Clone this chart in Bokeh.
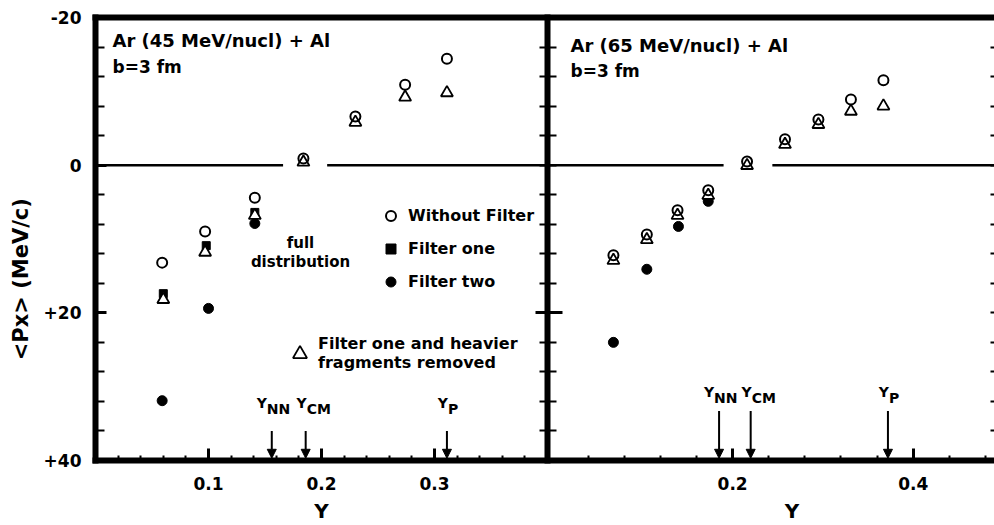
from bokeh.plotting import figure
from bokeh.layouts import row
from bokeh.models import (Range1d, FixedTicker, LinearAxis, Label, Legend, LegendItem,
                          Arrow, NormalHead, ColumnDataSource)
from bokeh.embed import file_html
from bokeh.resources import INLINE
from bokeh.core.properties import value

FONT = "DejaVu Sans"
NB = "\u00a0"

# ---------------- data: left panel, Ar (45 MeV/nucl) + Al ----------------
l_open_x = [0.059, 0.097, 0.141, 0.184, 0.230, 0.274, 0.311]
l_open_y = [13.2, 9.0, 4.4, -0.9, -6.6, -10.9, -14.4]
l_sq_x = [0.060, 0.098, 0.141]
l_sq_y = [17.4, 10.9, 6.4]
l_fill_x = [0.059, 0.100, 0.141]
l_fill_y = [31.9, 19.4, 7.9]
l_tri_x = [0.060, 0.097, 0.141, 0.184, 0.230, 0.274, 0.311]
l_tri_y = [18.2, 11.8, 6.8, -0.4, -5.8, -9.2, -9.8]
l_mark_names = ["NN", "CM", "P"]
l_mark_x = [0.156, 0.186, 0.311]
l_zero_x0 = [0.0, 0.205]
l_zero_x1 = [0.166, 0.4]

# ---------------- data: right panel, Ar (65 MeV/nucl) + Al ----------------
r_open_x = [0.068, 0.105, 0.139, 0.173, 0.216, 0.258, 0.295, 0.331, 0.367]
r_open_y = [12.2, 9.4, 6.1, 3.4, -0.5, -3.5, -6.2, -8.9, -11.5]
r_tri_x = [0.068, 0.105, 0.139, 0.173, 0.216, 0.258, 0.295, 0.331, 0.367]
r_tri_y = [12.9, 10.1, 6.8, 4.1, 0.05, -2.8, -5.5, -7.3, -8.0]
r_fill_x = [0.068, 0.105, 0.140, 0.173]
r_fill_y = [24.0, 14.1, 8.3, 4.9]
r_mark_names = ["NN", "CM", "P"]
r_mark_x = [0.185, 0.220, 0.372]
r_zero_x0 = [-0.005, 0.244]
r_zero_x1 = [0.19, 0.49]

# ---------------- ticks ----------------
y_major = [-20, 0, 20, 40]
y_minor = [-16, -12, -8, -4, 4, 8, 12, 16, 24, 28, 32, 36]
y_labels = {-20.0: "-20", 0.0: "0", 20.0: "+20", 40.0: "+40"}
y_long = [20]
l_x_major = [0.1, 0.2, 0.3]
l_x_minor = [0.02, 0.04, 0.06, 0.08, 0.12, 0.14, 0.16, 0.18, 0.22, 0.24, 0.26, 0.28,
             0.32, 0.34, 0.36, 0.38]
r_x_major = [0.2, 0.4]
r_x_minor = [0.04, 0.08, 0.12, 0.16, 0.24, 0.28, 0.32, 0.36, 0.44, 0.48]

W_L, W_R, H = 547, 447, 525
TOP, BOTTOM = 17, 65


def make_fig(width, xr, border_left):
    p = figure(width=width, height=H, x_range=xr, y_range=Range1d(40, -20),
               output_backend="svg", toolbar_location=None,
               x_axis_location=None, y_axis_location=None,
               min_border_left=border_left, min_border_right=0,
               min_border_top=TOP, min_border_bottom=BOTTOM)
    p.outline_line_color = None
    p.background_fill_color = "white"
    p.border_fill_color = "white"
    p.grid.visible = False
    return p


def tick_axis(positions, tick_in, line=True, width=2):
    # axis drawing only (unlabelled) ticks, as minor ticks
    ax = LinearAxis(ticker=FixedTicker(ticks=[], minor_ticks=positions),
                    major_tick_in=0, major_tick_out=0,
                    minor_tick_in=tick_in, minor_tick_out=0,
                    minor_tick_line_width=width, minor_tick_line_color="black",
                    major_label_standoff=0,
                    axis_line_width=6, axis_line_cap="square", axis_line_color="black")
    if not line:
        ax.axis_line_color = None
    return ax


def label_axis(ticker, tick_in, minor_in, standoff, overrides=None, title=None,
               title_size="20px", title_standoff=6):
    ax = LinearAxis(ticker=ticker, major_tick_in=tick_in, major_tick_out=0,
                    minor_tick_in=minor_in, minor_tick_out=0,
                    major_tick_line_width=3, minor_tick_line_width=2,
                    major_tick_line_color="black", minor_tick_line_color="black",
                    major_label_text_font=FONT, major_label_text_font_style="bold",
                    major_label_text_font_size="17px", major_label_text_color="black",
                    major_label_standoff=standoff,
                    axis_line_width=6, axis_line_cap="square", axis_line_color="black")
    if overrides:
        ax.major_label_overrides = overrides
    if title:
        ax.axis_label = title
        ax.axis_label_text_font = FONT
        ax.axis_label_text_font_style = "bold"
        ax.axis_label_text_font_size = title_size
        ax.axis_label_text_color = "black"
        ax.axis_label_standoff = title_standoff
    return ax


def draw_points(p, ox, oy, tx, ty, fx, fy, sx=None, sy=None):
    rf = p.scatter(fx, fy, marker="circle", size=10, fill_color="black", line_color="black")
    rs = None
    if sx is not None:
        rs = p.scatter(sx, sy, marker="square", size=8, fill_color="black", line_color="black")
    rt = p.scatter(tx, ty, marker="triangle", size=12, fill_color="white",
                   line_color="black", line_width=1.8)
    ro = p.scatter(ox, oy, marker="circle", size=10, fill_color=None,
                   line_color="black", line_width=2)
    return ro, rs, rf, rt


def draw_marks(p, names, xs, y_start, gap):
    shift = [-5 if n == "NN" else 1 for n in names]
    src = ColumnDataSource(dict(x=xs, y0=[y_start] * len(xs), y1=[39.7] * len(xs),
                                sub=names, big=["Y"] * len(xs), dx=shift))
    p.add_layout(Arrow(source=src, x_start="x", y_start="y0", x_end="x", y_end="y1",
                       line_width=2, line_color="black",
                       end=NormalHead(size=9, line_color="black", fill_color="black",
                                      line_width=1)))
    p.text(x="x", y="y0", text="big", source=src, text_align="right",
           text_baseline="bottom", y_offset=-gap - 6, x_offset="dx",
           text_font=value(FONT), text_font_style="bold", text_font_size="14px",
           text_color="black")
    p.text(x="x", y="y0", text="sub", source=src, text_align="left",
           text_baseline="bottom", y_offset=-gap, x_offset="dx",
           text_font=value(FONT), text_font_style="bold", text_font_size="14px",
           text_color="black")


def add_label(p, x, y, text, size="17px", align="left"):
    p.add_layout(Label(x=x, y=y, x_units="screen", y_units="screen", text=text,
                       text_font=FONT, text_font_style="bold", text_font_size=size,
                       text_align=align, text_baseline="middle", text_color="black"))


# ================= left panel =================
pL = make_fig(W_L, Range1d(0, 0.4), 95)
pL.segment(x0=l_zero_x0, y0=[0] * len(l_zero_x0), x1=l_zero_x1, y1=[0] * len(l_zero_x1),
           line_color="black", line_width=2.5)
roL, rsL, rfL, rtL = draw_points(pL, l_open_x, l_open_y, l_tri_x, l_tri_y,
                                 l_fill_x, l_fill_y, l_sq_x, l_sq_y)

pL.add_layout(label_axis(FixedTicker(ticks=y_major, minor_ticks=y_minor), 11, 9, 14,
                         overrides=y_labels, title="<Px> (MeV/c)" + NB * 11,
                         title_size="21px", title_standoff=8), "left")
pL.add_layout(tick_axis(y_major + y_minor, 8), "right")
pL.add_layout(tick_axis(y_long, 12, line=False, width=3), "right")
pL.add_layout(tick_axis([], 0), "above")
pL.add_layout(label_axis(FixedTicker(ticks=l_x_major, minor_ticks=l_x_minor), 12, 5, 16,
                         title="Y"), "below")

draw_marks(pL, l_mark_names, l_mark_x, 36.0, 14)

add_label(pL, 17, 420, "Ar (45 MeV/nucl) + Al", size="18px")
add_label(pL, 17, 394, "b=3 fm")
add_label(pL, 205, 218, "full", size="15px", align="center")
add_label(pL, 205, 199, "distribution", size="15px", align="center")

leg1 = Legend(items=[LegendItem(label="Without Filter", renderers=[roL]),
                     LegendItem(label="Filter one", renderers=[rsL]),
                     LegendItem(label="Filter two", renderers=[rfL])],
              location=(283, 166), orientation="vertical", glyph_width=25, glyph_height=25,
              spacing=8, label_standoff=5, padding=0, margin=0, border_line_color=None,
              background_fill_alpha=0, label_text_font=FONT, label_text_font_style="bold",
              label_text_font_size="16px", label_text_color="black")
leg2 = Legend(items=[LegendItem(label="Filter one and heavier\nfragments removed",
                                renderers=[rtL])],
              location=(187, 88), orientation="vertical", glyph_width=35, glyph_height=35,
              label_standoff=1, padding=0, margin=0, border_line_color=None,
              background_fill_alpha=0, label_text_font=FONT, label_text_font_style="bold",
              label_text_font_size="16px", label_text_color="black")
pL.add_layout(leg1)
pL.add_layout(leg2)

# ================= right panel =================
pR = make_fig(W_R, Range1d(-0.005, 0.49), 0)
pR.segment(x0=r_zero_x0, y0=[0] * len(r_zero_x0), x1=r_zero_x1, y1=[0] * len(r_zero_x1),
           line_color="black", line_width=2.5)
draw_points(pR, r_open_x, r_open_y, r_tri_x, r_tri_y, r_fill_x, r_fill_y)

pR.add_layout(tick_axis(y_major + y_minor, 9), "left")
pR.add_layout(tick_axis(y_long, 15, line=False, width=3), "left")
pR.add_layout(tick_axis(y_major + y_minor, 4, line=False), "right")
pR.add_layout(tick_axis([], 0), "above")
pR.add_layout(label_axis(FixedTicker(ticks=r_x_major, minor_ticks=r_x_minor), 12, 5, 16,
                         title=NB * 6 + "Y"), "below")

draw_marks(pR, r_mark_names, r_mark_x, 33.3, 5)

add_label(pR, 23, 415, "Ar (65 MeV/nucl) + Al", size="18px")
add_label(pR, 23, 390, "b=3 fm")

layout = row(pL, pR, spacing=0)
open("out.html", "w").write(file_html(layout, INLINE))
